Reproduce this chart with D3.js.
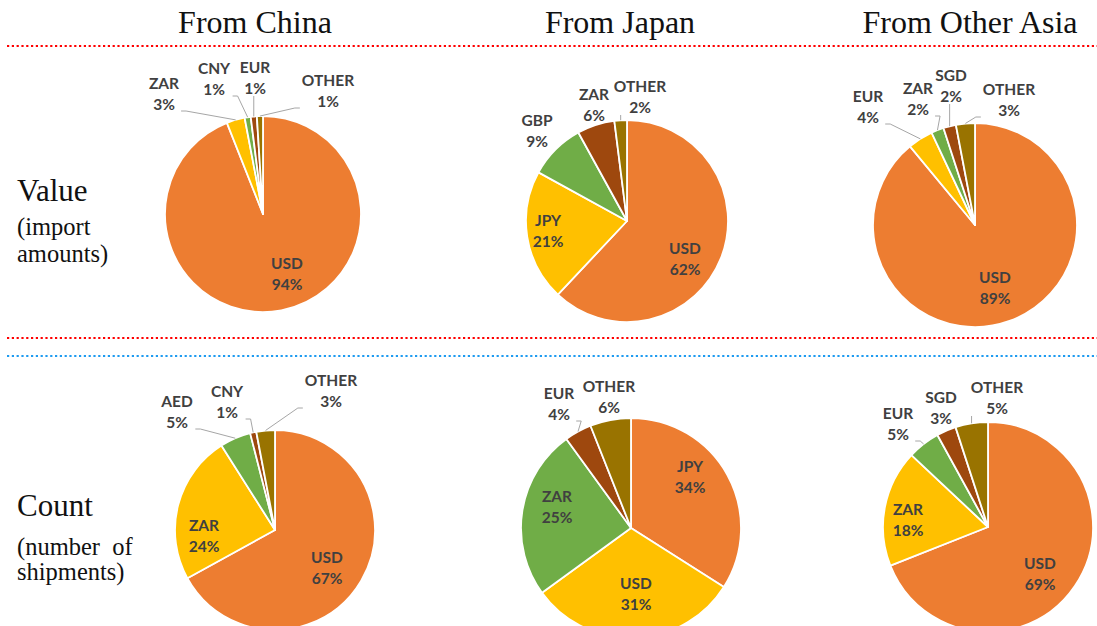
<!DOCTYPE html>
<html><head><meta charset="utf-8">
<script src="https://cdn.jsdelivr.net/npm/d3@7"></script>
<style>body{margin:0;background:#fff} svg{display:block}</style>
</head><body>
<svg id="c" width="1097" height="626"></svg>
<script>
// ---------- data ----------
const origins = ["From China", "From Japan", "From Other Asia"];
const measures = ["Value", "Count"];
const measureNotes = [["(import", "amounts)"], ["(number  of", "shipments)"]];

const valueCurrencies = [
  ["USD", "ZAR", "CNY", "EUR", "OTHER"],
  ["USD", "JPY", "GBP", "ZAR", "OTHER"],
  ["USD", "EUR", "ZAR", "SGD", "OTHER"]
];
const valueShares = [
  [94, 3, 1, 1, 1],
  [62, 21, 9, 6, 2],
  [89, 4, 2, 2, 3]
];
const countCurrencies = [
  ["USD", "ZAR", "AED", "CNY", "OTHER"],
  ["JPY", "USD", "ZAR", "EUR", "OTHER"],
  ["USD", "ZAR", "EUR", "SGD", "OTHER"]
];
const countShares = [
  [67, 24, 5, 1, 3],
  [34, 31, 25, 4, 6],
  [69, 18, 5, 3, 5]
];
const sliceColors = ["#ED7D31", "#FFC000", "#70AD47", "#9E480E", "#997300"];

// ---------- layout (placement only) ----------
const pieLayout = [
  {cx: 263, cy: 214, r: 98}, {cx: 627, cy: 221, r: 101}, {cx: 975, cy: 225, r: 102},
  {cx: 275, cy: 530, r: 100}, {cx: 631, cy: 528, r: 110}, {cx: 988, cy: 527, r: 105}
];
// label centre offsets from pie centre
const labelOffsets = [
  [[24, 60], [-99, -120], [-49, -135], [-8, -136], [65, -123]],
  [[58, 38], [-79, 10], [-90, -90], [-33, -116], [13, -124]],
  [[20, 63], [-107, -118], [-57, -126], [-24, -139], [34, -125]],
  [[52, 38], [-71, 6], [-98, -118], [-48, -128], [56, -139]],
  [[59, -51], [5, 66], [-74, -21], [-72, -124], [-22, -131]],
  [[52, 47], [-80, -7], [-90, -103], [-47, -119], [9, -129]]
];
const leaderFlags = [
  [0, 1, 1, 1, 1], [0, 0, 0, 0, 1], [0, 1, 1, 1, 1],
  [0, 0, 1, 1, 1], [0, 0, 0, 1, 0], [0, 0, 1, 0, 1]
];
const headerX = [255, 620, 970];

// ---------- drawing ----------
const svg = d3.select("#c");
const serif = "'Liberation Serif', 'Times New Roman', serif";

// headers
svg.selectAll("text.hdr").data(origins).join("text")
  .attr("class", "hdr")
  .attr("x", (d, i) => headerX[i]).attr("y", 33)
  .attr("text-anchor", "middle")
  .attr("font-family", serif).attr("font-size", 32).attr("fill", "#111")
  .text(d => d);

// dotted separators
const seps = [{y: 46, c: "#FF0000"}, {y: 338, c: "#FF0000"}, {y: 356, c: "#1E9BF0"}];
svg.selectAll("line.sep").data(seps).join("line")
  .attr("class", "sep")
  .attr("x1", 7).attr("x2", 1097).attr("y1", d => d.y).attr("y2", d => d.y)
  .attr("stroke", d => d.c).attr("stroke-width", 2.2).attr("stroke-dasharray", "2.2,2.6");

// row labels
const rowBase = [[201, 235, 262], [516, 555, 580]];
measures.forEach((m, i) => {
  svg.append("text").attr("x", 17).attr("y", rowBase[i][0])
    .attr("font-family", serif).attr("font-size", 31).attr("fill", "#111").text(m);
  measureNotes[i].forEach((n, j) => {
    svg.append("text").attr("x", 17).attr("y", rowBase[i][j + 1])
      .attr("font-family", serif).attr("font-size", 24.5).attr("fill", "#111")
      .attr("xml:space", "preserve").style("white-space", "pre").text(n);
  });
});

const pie = d3.pie().sort(null).value(d => d.v);
const labFont = "Lato, 'Open Sans', sans-serif";

const charts = [];
[valueCurrencies, countCurrencies].forEach((cur, row) => {
  const shares = row === 0 ? valueShares : countShares;
  cur.forEach((names, col) => {
    charts.push(names.map((n, k) => ({name: n, v: shares[col][k], k})));
  });
});

charts.forEach((data, ci) => {
  const L = pieLayout[ci];
  const arc = d3.arc().innerRadius(0).outerRadius(L.r);
  const g = svg.append("g").attr("transform", `translate(${L.cx},${L.cy})`);
  const arcs = pie(data);
  g.selectAll("path").data(arcs).join("path")
    .attr("d", arc)
    .attr("fill", d => sliceColors[d.data.k])
    .attr("stroke", "#fff").attr("stroke-width", 1.8).attr("stroke-linejoin", "round");

  const lg = g.append("g");
  arcs.forEach((a, k) => {
    const [dx, dy] = labelOffsets[ci][k];
    const t = lg.append("text")
      .attr("font-family", labFont).attr("font-weight", 700).attr("font-size", 15.5)
      .attr("fill", "#404040").attr("text-anchor", "middle");
    t.append("tspan").attr("x", dx).attr("y", dy - 10.5 + 5.5).text(a.data.name);
    t.append("tspan").attr("x", dx).attr("y", dy + 10.5 + 5.5).text(a.data.v + "%");
    if (leaderFlags[ci][k]) {
      const w = t.node().getBBox().width;
      const left = dx - w / 2 - 1, right = dx + w / 2 + 1;
      const top = dy - 17, bottom = dy + 17;
      const ang = (a.startAngle + a.endAngle) / 2;
      const px = Math.sin(ang) * L.r, py = -Math.cos(ang) * L.r;
      let pts;
      if (px >= left && px <= right) {
        pts = [[px, bottom + 1], [px, py]];
      } else if (px > right) {
        const ya = Math.max(top + 2, Math.min(py, bottom));
        pts = [[right + 1, ya], [right + 6, ya], [px, py]];
      } else {
        const ya = Math.max(top + 2, Math.min(py, bottom));
        pts = [[left - 1, ya], [left - 6, ya], [px, py]];
      }
      lg.insert("path", "text").attr("d", d3.line()(pts))
        .attr("fill", "none").attr("stroke", "#A6A6A6").attr("stroke-width", 1);
    }
  });
});
</script>
</body></html>
